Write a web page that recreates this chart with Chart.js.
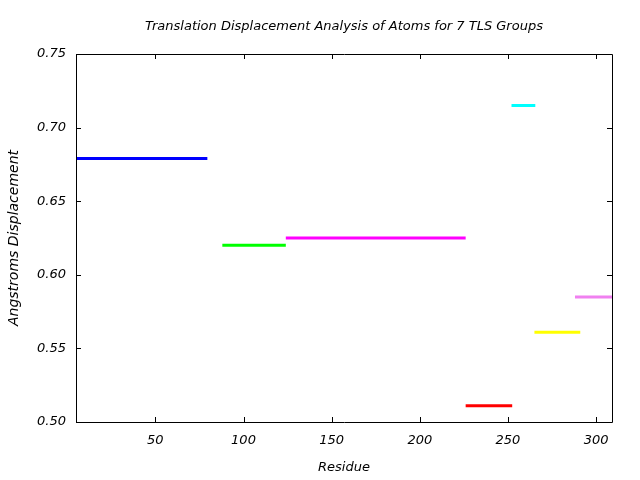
<!DOCTYPE html>
<html>
<head>
<meta charset="utf-8">
<script src="https://cdn.jsdelivr.net/npm/chart.js@4.4.0/dist/chart.umd.min.js"></script>
<style>
  html, body { margin: 0; padding: 0; background: #fff; }
  #wrap { width: 640px; height: 480px; }
</style>
</head>
<body>
<div id="wrap"><canvas id="grafico" width="640" height="480"></canvas></div>
<script>
// valores
const grupos = ['TLS 1', 'TLS 2', 'TLS 3', 'TLS 4', 'TLS 5', 'TLS 6', 'TLS 7'];
const inicioResiduo = [5, 88, 124, 226, 252, 265, 288];
const finResiduo = [79.5, 124, 226, 252.4, 265.5, 291, 309];
const desplazamiento = [0.679, 0.620, 0.625, 0.511, 0.715, 0.561, 0.585];
const colores = ['#0000ff', '#00ff00', '#ff00ff', '#ff0000', '#00ffff', '#ffff00', '#f080f0'];
const ticksX = [50, 100, 150, 200, 250, 300];
const ticksY = [0.50, 0.55, 0.60, 0.65, 0.70, 0.75];
const titulo = 'Translation Displacement Analysis of Atoms for 7 TLS Groups';

const fuente = 'DejaVu Sans';

// titulo centrado sobre el area del grafico (como gnuplot)
const tituloCentrado = {
    id: 'tituloCentrado',
    afterDraw(chart) {
        const ctx = chart.ctx;
        const a = chart.chartArea;
        ctx.save();
        ctx.fillStyle = '#000';
        ctx.font = 'italic 13px "' + fuente + '"';
        ctx.textAlign = 'center';
        ctx.textBaseline = 'middle';
        ctx.fillText(titulo, (a.left + a.right) / 2, 27);
        ctx.restore();
    }
};

// borde y marcas hacia adentro (estilo gnuplot)
const bordeConMarcas = {
    id: 'bordeConMarcas',
    afterDraw(chart) {
        const ctx = chart.ctx;
        const a = chart.chartArea;
        const sx = chart.scales.x;
        const sy = chart.scales.y;
        const largo = 5;
        ctx.save();
        ctx.strokeStyle = '#000';
        ctx.lineWidth = 1;
        ctx.beginPath();
        ctx.rect(Math.round(a.left) + 0.5, Math.round(a.top) + 0.5,
                 Math.round(a.right - a.left), Math.round(a.bottom - a.top));
        ctx.stroke();
        ctx.beginPath();
        ticksX.forEach(v => {
            const x = Math.round(sx.getPixelForValue(v)) + 0.5;
            ctx.moveTo(x, a.bottom); ctx.lineTo(x, a.bottom - largo);
            ctx.moveTo(x, a.top); ctx.lineTo(x, a.top + largo);
        });
        ticksY.forEach(v => {
            const y = Math.round(sy.getPixelForValue(v)) + 0.5;
            ctx.moveTo(a.left, y); ctx.lineTo(a.left + largo, y);
            ctx.moveTo(a.right, y); ctx.lineTo(a.right - largo, y);
        });
        ctx.stroke();
        ctx.restore();
    }
};

function crearGrafico() {
    const datasets = grupos.map((g, i) => ({
        label: g,
        data: [
            { x: inicioResiduo[i], y: desplazamiento[i] },
            { x: finResiduo[i], y: desplazamiento[i] }
        ],
        borderColor: colores[i],
        backgroundColor: colores[i],
        borderWidth: 3,
        pointRadius: 0,
        showLine: true,
        borderCapStyle: 'butt'
    }));

    const ctx = document.getElementById('grafico').getContext('2d');
    new Chart(ctx, {
        type: 'scatter',
        data: { datasets: datasets },
        options: {
            responsive: false,
            animation: false,
            layout: { padding: { top: 54, right: 28, bottom: 0, left: 0 } },
            plugins: {
                legend: { display: false },
                tooltip: { enabled: false },
                title: { display: false }
            },
            scales: {
                x: {
                    type: 'linear',
                    min: 5,
                    max: 309,
                    afterBuildTicks: (s) => { s.ticks = ticksX.map(v => ({ value: v })); },
                    afterFit: (s) => { s.height = 58; },
                    grid: { display: false, drawTicks: false },
                    border: { display: false },
                    ticks: {
                        color: '#000',
                        padding: 11,
                        maxRotation: 0,
                        font: { family: fuente, size: 13, style: 'italic' }
                    },
                    title: {
                        display: true,
                        text: 'Residue',
                        color: '#000',
                        font: { family: fuente, size: 13, style: 'italic' },
                        padding: { top: 0, bottom: 5 }
                    }
                },
                y: {
                    min: 0.5,
                    max: 0.75,
                    afterBuildTicks: (s) => { s.ticks = ticksY.map(v => ({ value: v })); },
                    afterFit: (s) => { s.width = 76; },
                    grid: { display: false, drawTicks: false },
                    border: { display: false },
                    ticks: {
                        color: '#000',
                        padding: 10,
                        font: { family: fuente, size: 13, style: 'italic' },
                        callback: (v) => Number(v).toFixed(2)
                    },
                    title: {
                        display: true,
                        text: 'Angstroms Displacement',
                        color: '#000',
                        font: { family: fuente, size: 14, style: 'italic' },
                        padding: { top: 6, bottom: 0 }
                    }
                }
            }
        },
        plugins: [bordeConMarcas, tituloCentrado]
    });
}

document.addEventListener('DOMContentLoaded', function() {
    crearGrafico();
});
</script>
</body>
</html>
